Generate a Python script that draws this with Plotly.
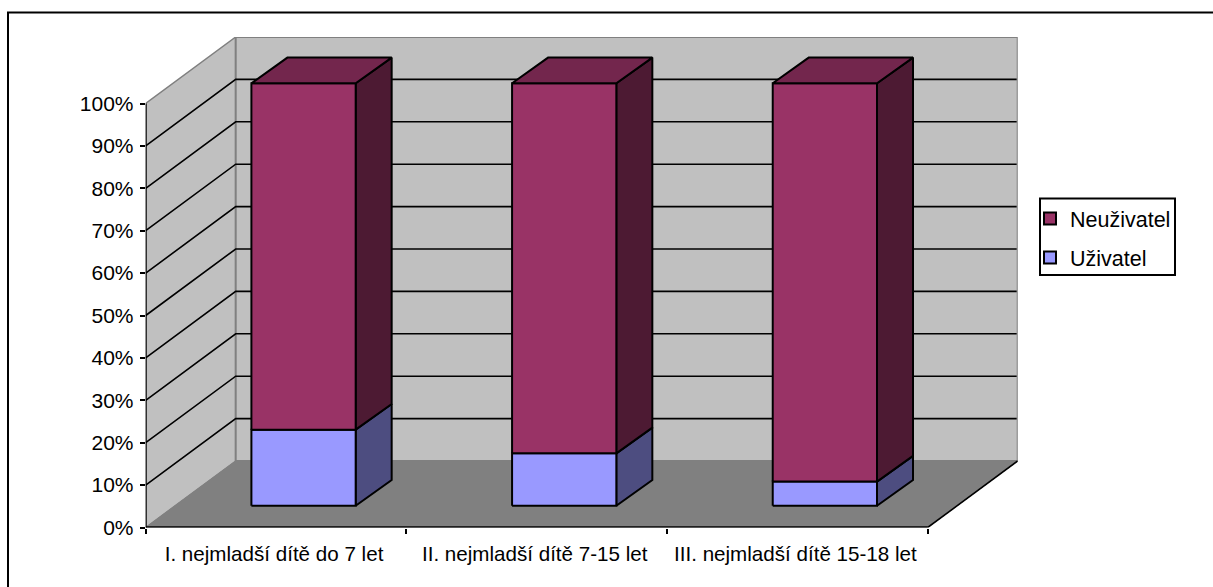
import plotly.graph_objects as go

# --- data ---
categories = ["I. nejmladší dítě do 7 let", "II. nejmladší dítě 7-15 let", "III. nejmladší dítě 15-18 let"]
uzivatel = [18.0, 12.4, 5.7]
neuzivatel = [82.0, 87.6, 94.3]
y_ticks = [0, 10, 20, 30, 40, 50, 60, 70, 80, 90, 100]
y_labels = ["0%", "10%", "20%", "30%", "40%", "50%", "60%", "70%", "80%", "90%", "100%"]
series_names = ["Neuživatel", "Uživatel"]

# --- style / layout ---
W, H = 1213, 587
FRONT_L, BACK_R = 145.7, 1017.7
FRONT_R = 927.7
Y0_PX, BACK_Y0_PX = 527.5, 461.0
PX_Y = 4.24
CAT_PX = (FRONT_R - FRONT_L) / len(categories)
DEPTH_X, DEPTH_Y = 90.0, 66.5
BAR_W = 0.40
BAR_OFF_X, BAR_OFF_Y = 27.5, 21.8
BAR_D_X, BAR_D_Y = 36.0, 25.7
BAR_SCALE = 422.4 / 424.0
FONT = "Liberation Sans, Arial, sans-serif"
WALL, FLOOR, EDGE = "#C0C0C0", "#808080", "#808080"
FRONT_COL = {"Neuživatel": "#993366", "Uživatel": "#9999FF"}
SIDE_COL = {"Neuživatel": "#4D1A33", "Uživatel": "#4D4D80"}
TOP_COL = "#73264D"

fig = go.Figure()


def dx(px):
    return px / CAT_PX


def dy(px):
    return px / PX_Y


def poly(xs, ys, fill, line="black", lw=2):
    fig.add_trace(go.Scatter(x=xs, y=ys, mode="lines", fill="toself", fillcolor=fill,
                             line=dict(color=line, width=lw), showlegend=False, hoverinfo="skip"))


def line(xs, ys, color="black", lw=1.6):
    fig.add_trace(go.Scatter(x=xs, y=ys, mode="lines", line=dict(color=color, width=lw),
                             showlegend=False, hoverinfo="skip", cliponaxis=False))


n = len(categories)
ddx, ddy = dx(DEPTH_X), dy(DEPTH_Y)
top = y_ticks[-1]

# walls and floor
poly([0, 0, ddx, ddx, 0], [0, top, top + ddy, ddy, 0], WALL, EDGE, 1.5)
poly([ddx, ddx, n + ddx, n + ddx, ddx], [ddy, top + ddy, top + ddy, ddy, ddy], WALL, EDGE, 2)
poly([0, ddx, n + ddx, n, 0], [0, ddy, ddy, 0, 0], FLOOR, EDGE, 1)

# gridlines
for v in y_ticks[1:-1]:
    line([0, ddx, n + ddx - 0.004], [v, v + ddy, v + ddy])

# floor right edge, axes
line([n, n + ddx], [0, ddy], "black", 1.6)
line([0, n], [0, 0], "black", 2.5)
line([0, 0], [0, top], "black", 2)

# bars
ox, oy = dx(BAR_OFF_X), dy(BAR_OFF_Y)
bx, by = dx(BAR_D_X), dy(BAR_D_Y)
for i in range(n):
    l = i + 0.5 - BAR_W / 2 + ox
    r = i + 0.5 + BAR_W / 2 + ox
    low = 0.0
    for name, vals in (("Uživatel", uzivatel), ("Neuživatel", neuzivatel)):
        hi = low + vals[i]
        y_lo, y_hi = low * BAR_SCALE + oy, hi * BAR_SCALE + oy
        poly([r, r + bx, r + bx, r, r], [y_lo, y_lo + by, y_hi + by, y_hi, y_lo], SIDE_COL[name])
        poly([l, r, r, l, l], [y_lo, y_lo, y_hi, y_hi, y_lo], FRONT_COL[name])
        low = hi
    y_t = low * BAR_SCALE + oy
    poly([l, r, r + bx, l + bx, l], [y_t, y_t, y_t + by, y_t + by, y_t], TOP_COL)

# legend entries
for name in series_names:
    fig.add_trace(go.Scatter(x=[None], y=[None], mode="markers", name=name, legendgroup=name,
                             marker=dict(symbol="square", size=12, color=FRONT_COL[name],
                                         line=dict(color="black", width=2))))

fig.update_layout(
    template="none",
    width=W, height=H, margin=dict(l=0, r=0, t=0, b=0),
    paper_bgcolor="white", plot_bgcolor="rgba(0,0,0,0)",
    font=dict(family=FONT, size=21, color="black"),
    hovermode=False,
    xaxis=dict(automargin=False, domain=[FRONT_L / W, BACK_R / W], range=[0, n + ddx], showgrid=False, zeroline=False,
               showline=False, tickmode="array", tickvals=[i + 0.5 for i in range(n)], ticktext=categories,
               ticks="", tickangle=0, ticklabelstandoff=12, ticklabelshift=-2, tickfont=dict(size=20.6),
               minor=dict(tickmode="array", tickvals=list(range(n + 1)), ticks="outside", ticklen=5,
                          tickwidth=2, tickcolor="black")),
    yaxis=dict(automargin=False, domain=[(H - Y0_PX) / H, (H - BACK_Y0_PX + top * PX_Y) / H], range=[0, top + ddy],
               showgrid=False, zeroline=False, showline=False, tickmode="array",
               tickvals=y_ticks, ticktext=y_labels, ticks="outside", ticklen=5, tickwidth=2, tickcolor="black",
               ticklabelstandoff=2, tickfont=dict(size=21)),
    legend=dict(x=1040 / W, y=1 - 198 / H, xanchor="left", yanchor="top", bgcolor="rgba(0,0,0,0)",
                borderwidth=0, tracegroupgap=8, indentation=-10, itemclick=False, itemdoubleclick=False,
                font=dict(size=21.5)),
    shapes=[
        dict(type="rect", xref="paper", yref="paper", x0=8 / W, x1=1300 / W, y0=1 - 12.5 / H, y1=-0.2,
             line=dict(color="black", width=2), fillcolor="rgba(0,0,0,0)"),
        dict(type="rect", xref="paper", yref="paper", x0=1040 / W, x1=1175 / W, y0=1 - 198.5 / H, y1=1 - 275 / H,
             line=dict(color="black", width=2), fillcolor="rgba(0,0,0,0)"),
    ],
)

fig.write_html("out.html", config=dict(displayModeBar=False),
               post_script="document.body.style.margin='0';document.documentElement.style.overflow='hidden';")
